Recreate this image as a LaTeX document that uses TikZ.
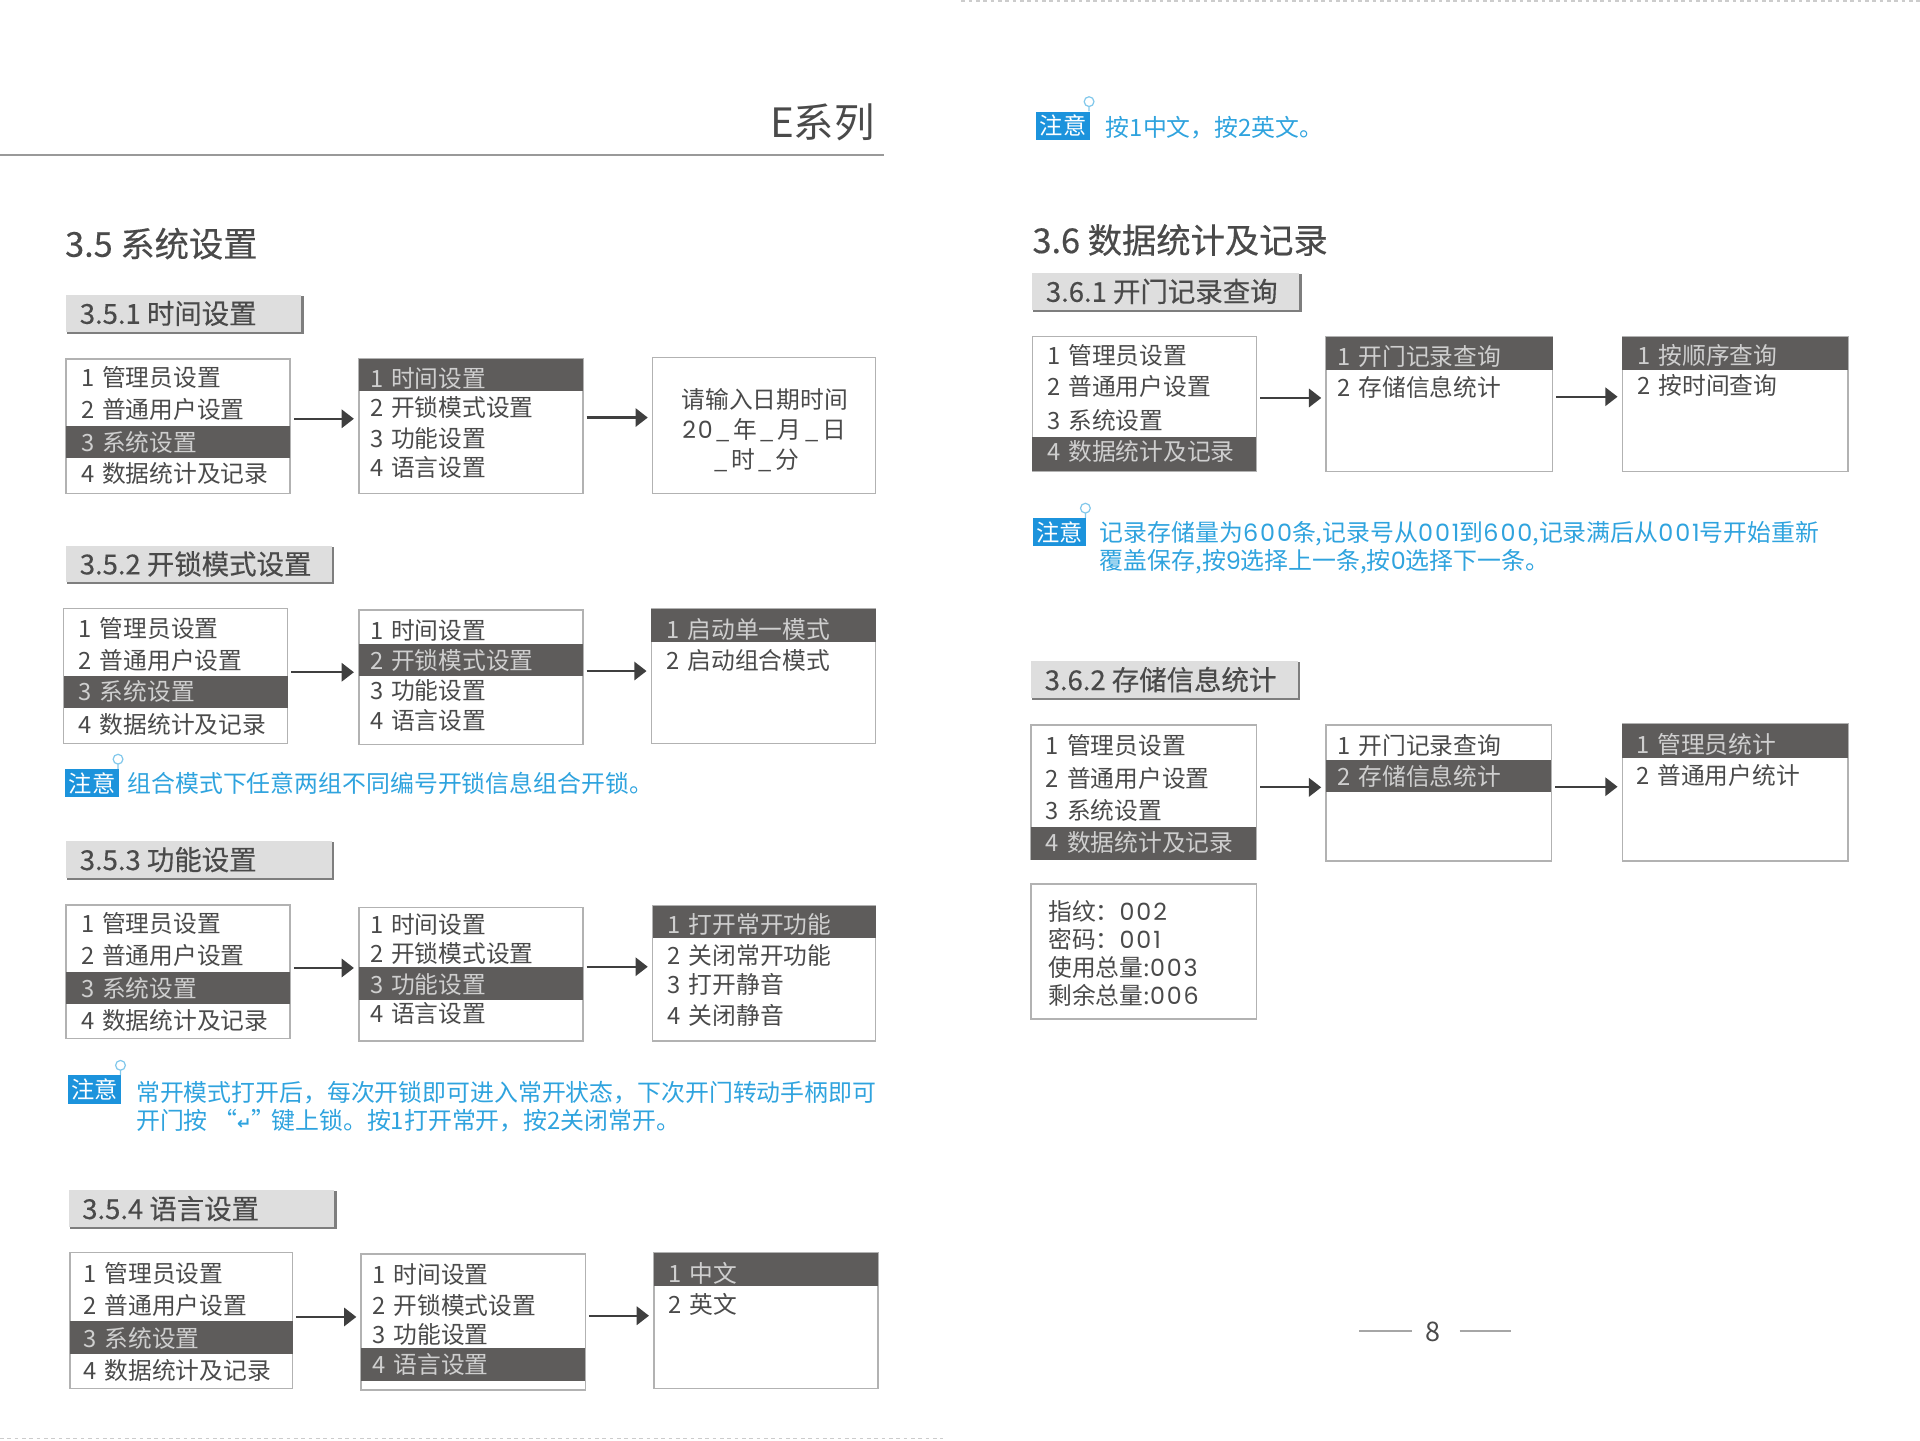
\documentclass[tikz,border=0pt]{standalone}
\usepackage{fontspec}
\setmainfont{Noto Sans CJK SC}
\newfontfamily\headfont{Noto Sans CJK SC}[FakeBold=0.4]
\newfontfamily\symbolfont{DejaVu Sans}
\newfontfamily\digitfont{Poppins}[LetterSpace=8]
\newcommand{\wide}[1]{{\digitfont #1}}
\newcommand{\blank}{\hspace{3pt}\_\hspace{3pt}}
\newcommand{\rowfont}{\fontsize{19.4}{22}\selectfont\spaceskip=6.5pt\relax}
\usetikzlibrary{calc,arrows.meta}

\definecolor{textgray}{HTML}{4A4A4A}
\definecolor{rowgray}{HTML}{5E5C5B}
\definecolor{rowtext}{HTML}{CFCFCF}
\definecolor{edgegray}{HTML}{B2B2B2}
\definecolor{barfill}{HTML}{DEDEDE}
\definecolor{barshade}{HTML}{7E7E7E}
\definecolor{noteblue}{HTML}{2FA3DE}
\definecolor{badgeblue}{HTML}{1C93DC}

\tikzset{
  boxframe/.style={draw=edgegray,line width=1.2pt,fill=white,inner sep=0pt,outer sep=0pt,anchor=north west},
  rowoff/.style={anchor=west,inner sep=0pt,text=textgray,font=\rowfont},
  rowon/.style={rowoff,text=rowtext},
  boxcenter/.style={rowoff,anchor=center},
  barlabel/.style={anchor=west,inner sep=0pt,text=textgray,font=\headfont\fontsize{22.4}{26}\selectfont},
  bartitle/.style={anchor=west,inner sep=0pt,text=textgray,font=\headfont\fontsize{28}{32}\selectfont},
  barbox/.style={fill=barfill,inner sep=0pt,outer sep=0pt,anchor=north west},
  notetext/.style={anchor=west,inner sep=0pt,text=noteblue,font=\fontsize{19.5}{22}\selectfont},
  notebadge/.style={fill=badgeblue,text=white,inner sep=0pt,anchor=north west,minimum width=44pt,minimum height=23pt,font=\fontsize{19}{20}\selectfont},
  notepin/.style={draw=noteblue!60,line width=1pt},
  flowline/.style={-{Triangle[length=10pt,width=15pt]},draw=textgray!85!black,line width=1.8pt,shorten <=3pt,shorten >=4pt}
}

\begin{document}
\begin{tikzpicture}[x=1pt,y=-1pt]
  \useasboundingbox (0,0) rectangle (1568,1176);

  %% Page furniture
  \draw[gray!40,dashed,line width=1pt] (785,0.8) -- (1568,0.8);
  \draw[gray!40,dashed,line width=1pt] (0,1175) -- (770,1175);
  \draw[gray!80,line width=1.2pt] (0,126.5) -- (722,126.5);
  \node[anchor=east,inner sep=0pt,text=textgray,font=\fontsize{33}{36}\selectfont] (SERIES) at (714.5,100) {E系列};
  \node[bartitle] (TITLE35) at (53,199) {3.5 系统设置};
  \node[bartitle] (TITLE36) at (843,196) {3.6 数据统计及记录};
  \node[inner sep=0pt,text=textgray,font=\fontsize{22}{26}\selectfont] (PAGE) at (1170,1088) {8};
  \draw[gray!70,line width=1.2pt] (1110,1087) -- (1153,1087);
  \draw[gray!70,line width=1.2pt] (1192,1087) -- (1234,1087);

  %% Section bars
  \foreach \id/\xl/\yt/\xr/\yb/\t in {S1/54/241/246/271/3.5.1 时间设置,
    S2/54/446/271/475/3.5.2 开锁模式设置,
    S3/54/687/271/717/3.5.3 功能设置,
    S4/56/972/273/1002/3.5.4 语言设置,
    S5/843/223/1061/253/3.6.1 开门记录查询,
    S6/842/540/1060/570/3.6.2 存储信息统计}
  {
    \fill[barshade] ({\xl+1},{\yt+1}) rectangle ({\xr+2},{\yb+2});
    \node[barbox,minimum width={\xr-\xl},minimum height={\yb-\yt}] (\id) at (\xl,\yt) {};
    \node[barlabel] (\id T) at ($(\id.west)+(11,0)$) {\t};
  }

  %% Boxes, name/left/top/right/bottom
  \foreach \id/\xl/\yt/\xr/\yb in {A1/54/293/237/403,A2/293/293/476/403,A3/533/292/715/403,
    B1/52/497/235/607,B2/293/498/476/608,B3/532/497/715/607,
    C1/54/739/237/848,C2/293/741/476/850,C3/533/740/715/850,
    D1/57/1023/239/1134,D2/295/1024/478/1135,D3/534/1023/717/1134,
    E1/843/275/1026/385,E2/1083/275/1268/385,E3/1325/275/1509/385,
    F1/842/592/1026/702,F2/1083/592/1267/703,F3/1325/591/1509/703,F4/842/722/1026/832}
  {
    \node[boxframe,minimum width={\xr-\xl},minimum height={\yb-\yt}] (\id) at (\xl,\yt) {};
  }

  %% Selected rows, box/top/bottom
  \foreach \id/\yt/\yb in {A1/348/374,A2/293/319,B1/552/578,B2/526/552,B3/497/524,
    C1/794/820,C2/790/817,C3/740/766,D1/1079/1106,D2/1101/1128,D3/1023/1050,
    E1/357/385,E2/275/302,E3/275/302,F1/675/702,F2/621/647,F3/591/619}
  {
    \fill[rowgray] (\id.west |- 0,\yt) rectangle (\id.east |- 0,\yb);
  }

  %% Main menu, first column
  \foreach \id/\x/\ya/\yb/\yc/\yd/\on in {A1/66/308/334/361/387/3,B1/64/513/539/565/592/3,
    C1/66/754/780/807/833/3,D1/68/1040/1066/1093/1119/3,
    E1/855/290/316/343/369/4,F1/854/609/636/662/688/4}
  {
    \foreach \y/\t [count=\i] in {\ya/1 管理员设置,\yb/2 普通用户设置,\yc/3 系统设置,\yd/4 数据统计及记录}
    {
      \ifnum\i=\on \def\rowstyle{rowon}\else\def\rowstyle{rowoff}\fi
      \node[\rowstyle] (\id-\i) at (\x,\y) {\t};
    }
  }

  %% System menu, second column
  \foreach \id/\x/\ya/\yb/\yc/\yd/\on in {A2/302/309/333/358/382/1,B2/302/515/539/564/588/2,
    C2/302/755/779/804/828/3,D2/304/1041/1066/1090/1114/4}
  {
    \foreach \y/\t [count=\i] in {\ya/1 时间设置,\yb/2 开锁模式设置,\yc/3 功能设置,\yd/4 语言设置}
    {
      \ifnum\i=\on \def\rowstyle{rowon}\else\def\rowstyle{rowoff}\fi
      \node[\rowstyle] (\id-\i) at (\x,\y) {\t};
    }
  }

  %% The remaining rows
  \foreach \id/\x/\y/\s/\t in {B3-1/544/514/rowon/1 启动单一模式,B3-2/544/539/rowoff/2 启动组合模式,
    C3-1/545/755/rowon/1 打开常开功能,C3-2/545/780/rowoff/2 关闭常开功能,
    C3-3/545/804/rowoff/3 打开静音,C3-4/545/829/rowoff/4 关闭静音,
    D3-1/546/1040/rowon/1 中文,D3-2/546/1065/rowoff/2 英文,
    E2-1/1092/291/rowon/1 开门记录查询,E2-2/1092/316/rowoff/2 存储信息统计,
    E3-1/1337/290/rowon/1 按顺序查询,E3-2/1337/315/rowoff/2 按时间查询,
    F2-1/1092/609/rowoff/1 开门记录查询,F2-2/1092/634/rowon/2 存储信息统计,
    F3-1/1336/608/rowon/1 管理员统计,F3-2/1336/633/rowoff/2 普通用户统计,
    F4-1/856/744/rowoff/指纹：\wide{002},F4-2/856/767/rowoff/密码：\wide{001},
    F4-3/856/790/rowoff/使用总量:\wide{003},F4-4/856/813/rowoff/剩余总量:\wide{006}}
  {
    \node[\s] (\id) at (\x,\y) {\t};
  }
  \node[boxcenter] (A3-1) at (624.5,326) {请输入日期时间};
  \node[boxcenter] (A3-2) at (624,351) {\wide{20}\blank 年\blank 月\blank 日};
  \node[boxcenter] (A3-3) at (618,376) {\_\hspace{3pt}时\blank 分};

  %% Arrows between the boxes
  \foreach \a/\b/\dy in {A1/A2/6,A2/A3/7,B1/B2/3,B2/B3/5,C1/C2/3,C2/C3/6,D1/D2/3,D2/D3/5,
    E1/E2/5,E2/E3/6,F1/F2/4,F2/F3/5}
  {
    \draw[flowline] ([yshift=\dy pt]\a.east) -- ([yshift=\dy pt]\a.east -| \b.west);
  }

  %% Notes
  \foreach \id/\x/\y in {N0/846/91,N1/843/423,N2/53/628,N3/55/878}
  {
    \node[notebadge] (\id) at (\x,\y) {注意};
    \draw[notepin] ([xshift=-1pt]\id.north east) -- ++(0,-4) ++(0,-4) circle (4);
  }
  \node[notetext] (N0a) at (903,104) {按1中文，按2英文。};
  \node[notetext] (N1a) at (898,436) {记录存储量为\wide{600}条,记录号从\wide{001}到\wide{600},记录满后从\wide{001}号开始重新};
  \node[notetext] (N1b) at (898,459) {覆盖保存,按\wide{9}选择上一条,按\wide{0}选择下一条。};
  \node[notetext] (N2a) at (104,640) {组合模式下任意两组不同编号开锁信息组合开锁。};
  \node[notetext] (N3a) at (111,892) {常开模式打开后，每次开锁即可进入常开状态，下次开门转动手柄即可};
  \node[notetext] (N3b) at (111,915) {开门按 “{\symbolfont\bfseries\fontsize{14}{16}\selectfont ↵}”\hspace{-3pt}键上锁。按1打开常开，按2关闭常开。};
\end{tikzpicture}
\end{document}
